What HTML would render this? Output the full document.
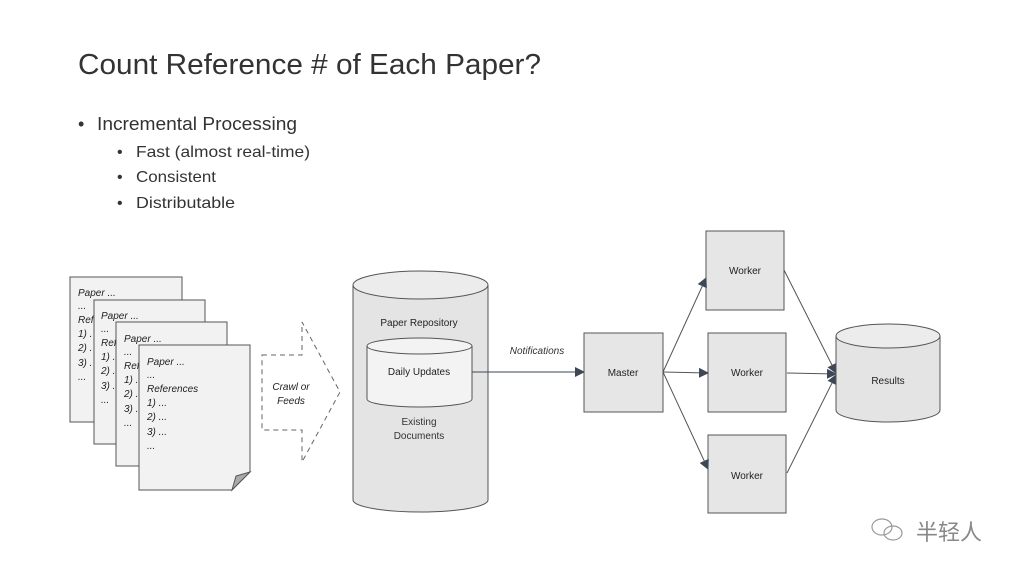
<!DOCTYPE html>
<html><head><meta charset="utf-8"><style>
body{margin:0;background:#fff;}
svg{display:block;font-family:"Liberation Sans",sans-serif;}
</style></head><body>
<svg width="1024" height="576" viewBox="0 0 1024 576" xmlns="http://www.w3.org/2000/svg">
<defs>
<marker id="ah" markerWidth="10" markerHeight="10" refX="9" refY="5" orient="auto" markerUnits="userSpaceOnUse">
<path d="M0,0 L10,5 L0,10 Z" fill="#3e4756"/></marker>
</defs>
<text x="78" y="74" font-size="29" fill="#333" textLength="463" lengthAdjust="spacingAndGlyphs">Count Reference # of Each Paper?</text>
<text x="78" y="130" font-size="18" fill="#333">•</text>
<text x="97" y="130" font-size="18" fill="#333" textLength="200" lengthAdjust="spacingAndGlyphs">Incremental Processing</text>
<g font-size="16" fill="#333">
<text x="117" y="157">•</text><text x="136" y="157" textLength="174" lengthAdjust="spacingAndGlyphs">Fast (almost real-time)</text>
<text x="117" y="182">•</text><text x="136" y="182" textLength="80" lengthAdjust="spacingAndGlyphs">Consistent</text>
<text x="117" y="208">•</text><text x="136" y="208" textLength="99" lengthAdjust="spacingAndGlyphs">Distributable</text>
</g>
<!-- papers -->
<g font-size="10" font-style="italic" fill="#222" stroke-width="1">
<rect x="70" y="277" width="112" height="145" fill="#f2f2f2" stroke="#555"/>
<text x="78" y="296">Paper ...</text><text x="78" y="309">...</text><text x="78" y="323">Ref</text><text x="78" y="337">1) .</text><text x="78" y="351">2) .</text><text x="78" y="366">3) .</text><text x="78" y="380">...</text>
<rect x="94" y="300" width="111" height="144" fill="#f2f2f2" stroke="#555"/>
<text x="101" y="319">Paper ...</text><text x="101" y="332">...</text><text x="101" y="346">Ref</text><text x="101" y="360">1) .</text><text x="101" y="374">2) .</text><text x="101" y="389">3) .</text><text x="101" y="403">...</text>
<rect x="116" y="322" width="111" height="144" fill="#f2f2f2" stroke="#555"/>
<text x="124" y="342">Paper ...</text><text x="124" y="355">...</text><text x="124" y="369">Ref</text><text x="124" y="383">1) .</text><text x="124" y="397">2) .</text><text x="124" y="412">3) .</text><text x="124" y="426">...</text>
<path d="M139,345 H250 V472 L232,490 H139 Z" fill="#f2f2f2" stroke="#555"/>
<path d="M250,472 L236,476 L232,490 Z" fill="#aaa" stroke="#555"/>
<text x="147" y="365">Paper ...</text><text x="147" y="378">...</text><text x="147" y="392">References</text><text x="147" y="406">1) ...</text><text x="147" y="420">2) ...</text><text x="147" y="435">3) ...</text><text x="147" y="449">...</text>
</g>
<!-- dashed arrow -->
<path d="M262,355 H302 V322 L340,392 L302,462 V430 H262 Z" fill="none" stroke="#666" stroke-dasharray="5,4"/>
<text x="291" y="390" font-size="10" font-style="italic" text-anchor="middle" fill="#222">Crawl or</text>
<text x="291" y="404" font-size="10" font-style="italic" text-anchor="middle" fill="#222">Feeds</text>
<!-- repository -->
<path d="M353,285 V500 A67.5,12 0 0 0 488,500 V285" fill="#e4e4e4" stroke="#555"/>
<ellipse cx="420.5" cy="285" rx="67.5" ry="14" fill="#ececec" stroke="#555"/>
<text x="419" y="326" font-size="10" text-anchor="middle" fill="#222">Paper Repository</text>
<path d="M367,346 V399 A52.5,8 0 0 0 472,399 V346" fill="#f3f3f3" stroke="#555"/>
<ellipse cx="419.5" cy="346" rx="52.5" ry="8" fill="#f3f3f3" stroke="#555"/>
<text x="419" y="375" font-size="10" text-anchor="middle" fill="#222">Daily Updates</text>
<text x="419" y="425" font-size="10" text-anchor="middle" fill="#333">Existing</text>
<text x="419" y="439" font-size="10" text-anchor="middle" fill="#333">Documents</text>
<line x1="472" y1="372" x2="584" y2="372" stroke="#3e4756" marker-end="url(#ah)"/>
<text x="537" y="354" font-size="10" font-style="italic" text-anchor="middle" fill="#333">Notifications</text>
<!-- master & workers -->
<g fill="#e6e6e6" stroke="#555">
<rect x="584" y="333" width="79" height="79"/>
<rect x="706" y="231" width="78" height="79"/>
<rect x="708" y="333" width="78" height="79"/>
<rect x="708" y="435" width="78" height="78"/>
</g>
<g font-size="10" text-anchor="middle" fill="#222">
<text x="623" y="376">Master</text>
<text x="745" y="274">Worker</text>
<text x="747" y="376">Worker</text>
<text x="747" y="479">Worker</text>
</g>
<g stroke="#555" fill="none" marker-end="url(#ah)">
<line x1="663" y1="372" x2="706" y2="278"/>
<line x1="663" y1="372" x2="708" y2="373"/>
<line x1="663" y1="372" x2="708" y2="469"/>
<line x1="784" y1="270" x2="836" y2="373"/>
<line x1="787" y1="373" x2="836" y2="374"/>
<line x1="787" y1="473" x2="836" y2="375"/>
</g>
<!-- results -->
<path d="M836,336 V410 A52,12 0 0 0 940,410 V336" fill="#e4e4e4" stroke="#555"/>
<ellipse cx="888" cy="336" rx="52" ry="12" fill="#ececec" stroke="#555"/>
<text x="888" y="384" font-size="10" text-anchor="middle" fill="#222">Results</text>
<!-- watermark -->
<g stroke="#999" fill="none" stroke-width="1.2">
<ellipse cx="882" cy="527" rx="10" ry="8"/><ellipse cx="893" cy="533" rx="9" ry="7"/>
</g>
<text x="916" y="540" font-size="22" fill="#888" font-family="'Noto Sans CJK SC',sans-serif">半轻人</text>
</svg>
</body></html>
